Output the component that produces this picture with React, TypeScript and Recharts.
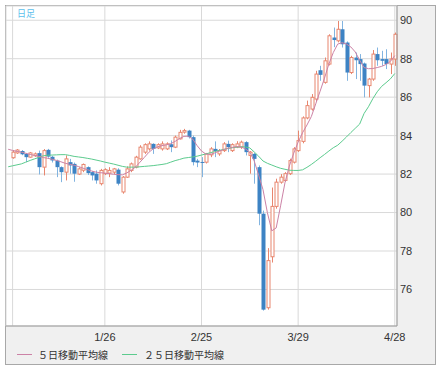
import React from 'react';
import { ComposedChart, Bar, Line, XAxis, YAxis, CartesianGrid } from 'recharts';

// 日足 candles, 12/23 (MA only) .. 4/28
const dates = [
  '12/23', '12/24', '12/25', '12/28', '12/29', '12/30', '1/4', '1/5', '1/6', '1/7',
  '1/8', '1/11', '1/12', '1/13', '1/14', '1/15', '1/18', '1/19', '1/20', '1/21',
  '1/22', '1/25', '1/26', '1/27', '1/28', '1/29', '2/1', '2/2', '2/3', '2/4',
  '2/5', '2/8', '2/9', '2/10', '2/11', '2/12', '2/15', '2/16', '2/17', '2/18',
  '2/19', '2/22', '2/23', '2/24', '2/25', '2/26', '3/1', '3/2', '3/3', '3/4',
  '3/5', '3/8', '3/9', '3/10', '3/11', '3/12', '3/15', '3/16', '3/17', '3/18',
  '3/19', '3/22', '3/23', '3/24', '3/25', '3/26', '3/29', '3/30', '3/31', '4/1',
  '4/2', '4/5', '4/6', '4/7', '4/8', '4/9', '4/12', '4/13', '4/14', '4/15',
  '4/16', '4/19', '4/20', '4/21', '4/22', '4/23', '4/26', '4/27', '4/28',
];
// dates[0] has no candle, so the OHLC lists start at 12/24
const opens = [
  82.85, 83.1, 83.2, 83.05, 82.88, 82.95, 83.09, 82.36, 83.26, 82.9,
  82.7, 82.36, 82.1, 82.62, 82.53, 82.0, 82.2, 82.36, 82.1, 82.02,
  81.5, 82.02, 82.05, 82.1, 82.23, 81.07, 81.84, 82.19, 82.36, 82.79,
  83.14, 83.31, 83.57, 83.36, 83.31, 83.31, 83.55, 83.4, 83.83, 84.18,
  84.26, 83.92, 82.7, 82.63, 82.62, 83.0, 83.31, 83.05, 83.22, 83.57,
  83.22, 83.4, 83.4, 83.66, 82.97, 83.05, 82.36, 79.94, 75.05, 77.7,
  80.32, 81.58, 81.67, 82.02, 82.62, 83.22, 83.7, 84.92, 85.38, 85.9,
  87.4, 86.77, 87.72, 89.1, 88.93, 89.53, 88.84, 87.28, 88.06, 87.98,
  87.75, 86.6, 86.94, 88.24, 87.98, 87.98, 87.72, 87.98, 89.22,
];
const highs = [
  83.25, 83.3, 83.25, 83.1, 83.15, 83.12, 83.22, 83.3, 83.31, 82.95,
  82.75, 82.4, 82.97, 82.79, 82.6, 82.35, 82.55, 82.4, 82.15, 82.19,
  82.27, 82.3, 82.36, 82.32, 82.3, 81.9, 82.4, 82.6, 82.95, 83.5,
  83.6, 83.7, 83.6, 83.6, 83.7, 83.65, 83.75, 84.0, 84.3, 84.35,
  84.3, 84.0, 82.79, 82.88, 83.1, 83.4, 83.7, 83.3, 83.66, 83.74,
  83.6, 83.71, 83.74, 83.71, 83.2, 83.1, 82.45, 80.1, 78.15, 81.3,
  81.76, 82.0, 82.1, 82.8, 83.4, 84.26, 85.0, 85.82, 86.16, 87.37,
  87.63, 88.06, 89.27, 89.62, 89.96, 89.96, 88.9, 88.15, 88.32, 88.24,
  87.8, 87.0, 88.45, 88.58, 88.41, 88.49, 88.32, 89.36, 89.53,
];
const lows = [
  82.8, 83.05, 82.98, 82.62, 82.85, 82.9, 81.98, 81.93, 82.85, 82.6,
  81.84, 81.58, 81.67, 82.02, 81.6, 81.95, 82.1, 81.95, 81.67, 81.5,
  81.41, 81.95, 81.84, 82.0, 81.41, 80.98, 81.8, 82.1, 82.3, 82.75,
  83.05, 83.22, 83.05, 83.3, 83.22, 83.25, 83.14, 83.35, 83.8, 84.1,
  83.85, 82.45, 82.36, 81.84, 82.55, 82.88, 82.88, 82.95, 83.15, 83.14,
  83.15, 83.35, 83.31, 82.97, 82.02, 81.5, 79.34, 74.9, 74.95, 77.4,
  80.2, 81.5, 81.6, 81.95, 82.55, 83.15, 83.6, 84.85, 85.3, 85.8,
  86.85, 86.7, 87.65, 88.6, 88.85, 88.58, 86.85, 87.2, 86.94, 86.85,
  85.99, 85.99, 86.85, 87.63, 87.63, 87.46, 87.2, 87.63, 88.93,
];
const closes = [
  83.14, 83.25, 83.03, 82.88, 83.1, 83.05, 82.36, 83.22, 82.91, 82.71,
  82.36, 82.1, 82.79, 82.45, 82.02, 82.27, 82.5, 82.05, 81.93, 81.67,
  82.19, 82.23, 82.19, 82.27, 81.5, 81.84, 82.27, 82.53, 82.88, 83.4,
  83.53, 83.57, 83.31, 83.53, 83.57, 83.57, 83.4, 83.92, 84.17, 84.26,
  83.92, 82.62, 82.6, 82.6, 83.05, 83.31, 83.2, 83.22, 83.57, 83.4,
  83.53, 83.57, 83.66, 83.14, 83.14, 82.79, 79.94, 74.95, 77.5, 80.32,
  81.58, 81.84, 82.02, 82.7, 83.31, 83.74, 84.92, 85.56, 85.99, 87.2,
  87.16, 87.89, 89.19, 88.97, 89.53, 88.75, 87.28, 88.06, 87.92, 87.72,
  86.6, 86.94, 88.24, 87.92, 87.89, 87.72, 87.98, 89.27, 89.17,
];
const ma5 = [
  83.29, 83.23, 83.18, 83.14, 83.08, 83.02, 82.97, 82.92, 82.86, 82.82,
  82.77, 82.71, 82.64, 82.56, 82.51, 82.46, 82.39, 82.31, 82.23, 82.16,
  82.1, 82.07, 82.05, 82.02, 81.99, 81.97, 81.96, 82.06, 82.2, 82.37,
  82.62, 82.87, 83.13, 83.31, 83.42, 83.48, 83.52, 83.58, 83.7, 83.85,
  83.96, 83.97, 83.82, 83.48, 83.2, 83.04, 83.02, 83.1, 83.19, 83.27,
  83.34, 83.39, 83.43, 83.41, 83.31, 83.13, 82.68, 81.95, 81.19, 79.99,
  79.05, 79.2, 80.35, 81.55, 82.42, 83.09, 83.66, 84.15, 84.55, 84.99,
  85.65, 86.31, 86.99, 87.73, 88.32, 88.76, 88.83, 88.76, 88.61, 88.35,
  87.92, 87.54, 87.48, 87.49, 87.54, 87.6, 87.7, 87.86, 88.16, 88.44,
];
const ma25 = [
  82.38, 82.43, 82.48, 82.53, 82.62, 82.71, 82.79, 82.87, 82.95, 82.98,
  82.99, 83.0, 83.01, 83.01, 82.97, 82.92, 82.89, 82.86, 82.82, 82.78,
  82.73, 82.68, 82.62, 82.57, 82.52, 82.46, 82.4, 82.36, 82.36, 82.36,
  82.38, 82.4, 82.42, 82.44, 82.47, 82.5, 82.54, 82.62, 82.7, 82.76,
  82.83, 82.86, 82.89, 82.93, 82.99, 83.05, 83.11, 83.17, 83.23, 83.28,
  83.33, 83.37, 83.4, 83.42, 83.41, 83.36, 83.15, 82.93, 82.68, 82.56,
  82.47, 82.38, 82.3, 82.25, 82.2, 82.19, 82.19, 82.22, 82.35, 82.5,
  82.67, 82.85, 83.02, 83.2, 83.37, 83.5, 83.71, 83.93, 84.16, 84.38,
  84.6, 85.15, 85.5, 85.92, 86.28, 86.56, 86.75, 86.95, 87.23, 87.38,
];
const dateTicks = ['12/24', '1/26', '2/25', '3/29', '4/28'];
const priceTicks = [76, 78, 80, 82, 84, 86, 88, 90];

const UP = '#e8866e';
const DOWN = '#3d83c4';
const DOWN_WICK = '#82b4e0';
const MA5_COLOR = '#cc82a6';
const MA25_COLOR = '#5ccb8e';

const data = dates.map((date, i) => {
  const k = i - 1;
  const row: any = { date, ma5: ma5[i], ma25: ma25[i] };
  if (k >= 0) {
    row.open = opens[k];
    row.high = highs[k];
    row.low = lows[k];
    row.close = closes[k];
    row.range = [lows[k], highs[k]];
  }
  return row;
});

const Candle = (props: any) => {
  const { x, y, width, height, payload } = props;
  if (!payload || payload.open == null) return null;
  const { open, close, high, low } = payload;
  const top = Math.min(y, y + height);
  const bottom = Math.max(y, y + height);
  const span = high - low || 1;
  const toY = (v: number) => top + ((high - v) / span) * (bottom - top);
  const cx = Math.round(x + width / 2);
  const up = close >= open;
  const bTop = toY(Math.max(open, close));
  const bBot = toY(Math.min(open, close));
  const bh = Math.max(1, bBot - bTop);
  if (up) {
    return (
      <g>
        <line x1={cx + 0.5} x2={cx + 0.5} y1={top} y2={bottom} stroke={UP} strokeWidth={1} />
        <rect x={cx - 1} y={bTop} width={3} height={bh} fill="#fff" stroke={UP} strokeWidth={1} />
      </g>
    );
  }
  return (
    <g>
      <line x1={cx + 0.5} x2={cx + 0.5} y1={top} y2={bottom} stroke={DOWN_WICK} strokeWidth={1} />
      <rect x={cx - 1.5} y={bTop} width={4} height={bh} fill={DOWN} />
    </g>
  );
};

export default function App() {
  return (
    <div style={{ position: 'absolute', left: 0, top: 0, width: 442, height: 371 }}>
      <div
        style={{
          position: 'absolute', left: 5, top: 5, width: 431, height: 360,
          boxSizing: 'border-box', border: '1px solid #a8a8a8', background: '#f0f0f0',
        }}
      />
      <div style={{ position: 'absolute', left: 0, top: 0 }}>
        <ComposedChart width={442} height={371} data={data} margin={{ top: 6, right: 7, bottom: 15, left: 6 }}>
          <CartesianGrid stroke="#d9d9d9" fill="#fff" />
          <XAxis
            dataKey="date"
            ticks={dateTicks}
            interval={0}
            tickFormatter={(v) => (v === '12/24' ? '' : v)}
            tickLine={false}
            tickSize={0}
            tickMargin={7}
            height={30}
            axisLine={{ stroke: '#9a9a9a' }}
            tick={{ fill: '#333', fontSize: 11, fontFamily: '"Liberation Sans", Arial, sans-serif' }}
          />
          <YAxis
            orientation="right"
            domain={[74.1, 90.74]}
            ticks={priceTicks}
            allowDataOverflow
            width={38}
            tickLine={false}
            tickSize={0}
            tickMargin={3}
            axisLine={{ stroke: '#9a9a9a' }}
            tick={{ fill: '#333', fontSize: 11, fontFamily: '"Liberation Sans", Arial, sans-serif' }}
          />
          <Line type="linear" dataKey="ma25" stroke={MA25_COLOR} strokeWidth={1} dot={false} isAnimationActive={false} />
          <Line type="linear" dataKey="ma5" stroke={MA5_COLOR} strokeWidth={1} dot={false} isAnimationActive={false} />
          <Bar dataKey="range" shape={(p: any) => <Candle {...p} />} isAnimationActive={false} />
        </ComposedChart>
      </div>
      <div style={{ position: 'absolute', left: 17, top: 8, fontSize: 9, color: '#5cc0ec', fontFamily: '"Noto Sans CJK JP", sans-serif', lineHeight: '12px' }}>
        日足
      </div>
      <div style={{ position: 'absolute', left: 17, top: 347, height: 14, display: 'flex', alignItems: 'center', fontSize: 10, color: '#333', fontFamily: '"Noto Sans CJK JP", sans-serif' }}>
        <span style={{ width: 15, height: 1, background: MA5_COLOR, marginRight: 6 }} />
        <span>５日移動平均線</span>
        <span style={{ width: 15, height: 1, background: MA25_COLOR, marginLeft: 14, marginRight: 7 }} />
        <span>２５日移動平均線</span>
      </div>
    </div>
  );
}
